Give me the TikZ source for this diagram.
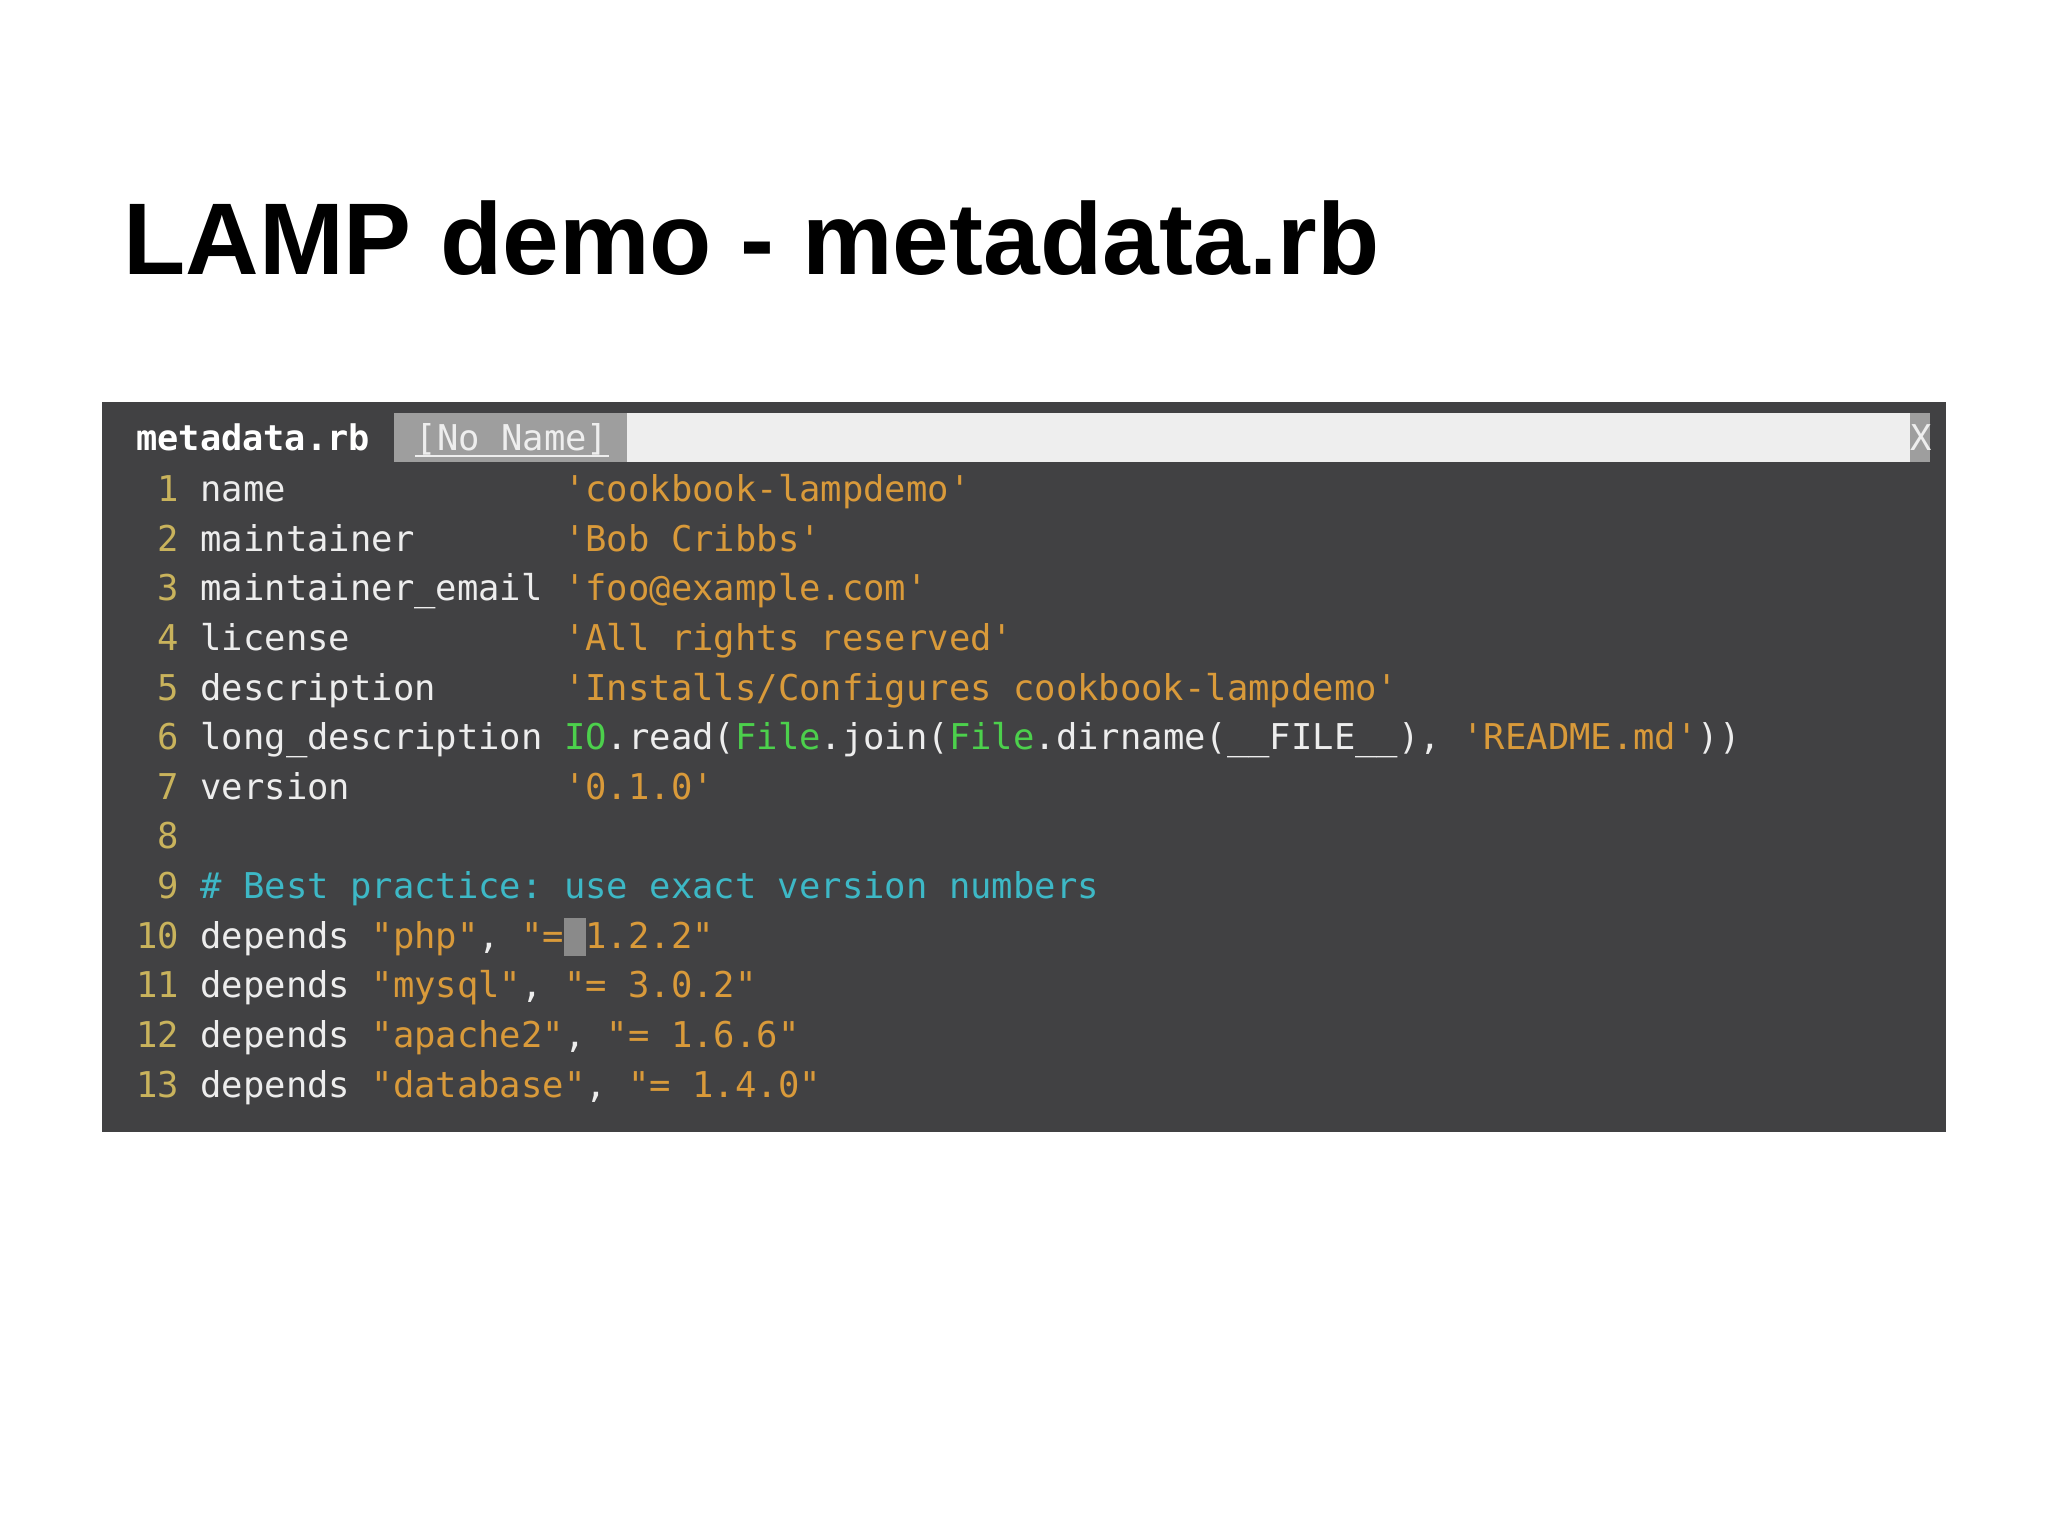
\documentclass[tikz,border=0pt]{standalone}
\usepackage{fontspec}
\setmainfont{Liberation Sans}
\newfontfamily\codefont{DejaVu Sans Mono}
\frenchspacing
\definecolor{bgc}{HTML}{414143}
\definecolor{numc}{HTML}{C9B35C}
\definecolor{strc}{HTML}{D99A3A}
\definecolor{cmtc}{HTML}{3DB8C6}
\definecolor{grnc}{HTML}{4CD04C}
\definecolor{txtc}{HTML}{EDEDED}
\definecolor{tabc}{HTML}{9E9E9E}
\definecolor{barc}{HTML}{EEEEEE}
\definecolor{curc}{HTML}{8A8A8A}
\newcommand{\sq}[1]{\textcolor{strc}{#1}}
\newcommand{\gr}[1]{\textcolor{grnc}{#1}}
\newcommand{\curbox}{\rlap{\textcolor{curc}{\rule[-0.22em]{0.602em}{1.08em}}}~}
\tikzset{codeline/.style={anchor=base west,inner sep=0pt,text=txtc,font=\codefont\fontsize{13.6pt}{16pt}\selectfont}}
\begin{document}
\begin{tikzpicture}[x=0.5pt,y=-0.5pt]
\useasboundingbox (0,0) rectangle (1568,1176);
\fill[white] (0,0) rectangle (1568,1176);
\node[anchor=base west,inner sep=0pt,font=\bfseries\fontsize{39pt}{44pt}\selectfont] (title) at (94,210) {LAMP demo - metadata.rb};
\fill[bgc] (78,308) rectangle (1490,867);
\fill[barc] (480,316) rectangle (1478,354);
\fill[tabc] (302,316) rectangle (480,354);
\fill[tabc] (1462,316) rectangle (1478,354);
\node[codeline,font=\codefont\bfseries\fontsize{13.5pt}{16pt}\selectfont,text=white] (tab1) at (104,345) {metadata.rb};
\node[codeline,text=barc] (tab2) at (318,345) {[No~Name]};
\draw[barc,line width=1pt] (tab2.south west) -- (tab2.south east);
\node[codeline,text=barc] (xbtn) at (1462,345) {X};
\foreach \i/\t in {
 1/{\textcolor{numc}{~1} name~~~~~~~~~~~~~\sq{'cookbook-lampdemo'}},
 2/{\textcolor{numc}{~2} maintainer~~~~~~~\sq{'Bob Cribbs'}},
 3/{\textcolor{numc}{~3} maintainer\_email \sq{'foo@example.com'}},
 4/{\textcolor{numc}{~4} license~~~~~~~~~~\sq{'All rights reserved'}},
 5/{\textcolor{numc}{~5} description~~~~~~\sq{'Installs/Configures cookbook-lampdemo'}},
 6/{\textcolor{numc}{~6} long\_description \gr{IO}.read(\gr{File}.join(\gr{File}.dirname(\_\_FILE\_\_), \sq{'README.md'}))},
 7/{\textcolor{numc}{~7} version~~~~~~~~~~\sq{'0.1.0'}},
 8/{\textcolor{numc}{~8}},
 9/{\textcolor{numc}{~9} \textcolor{cmtc}{\# Best practice: use exact version numbers}},
 10/{\textcolor{numc}{10} depends \sq{"php"}, \sq{"=\curbox1.2.2"}},
 11/{\textcolor{numc}{11} depends \sq{"mysql"}, \sq{"= 3.0.2"}},
 12/{\textcolor{numc}{12} depends \sq{"apache2"}, \sq{"= 1.6.6"}},
 13/{\textcolor{numc}{13} depends \sq{"database"}, \sq{"= 1.4.0"}}}
 \node[codeline] (line\i) at (104,{384+38*(\i-1)}) {\t};
\end{tikzpicture}
\end{document}
